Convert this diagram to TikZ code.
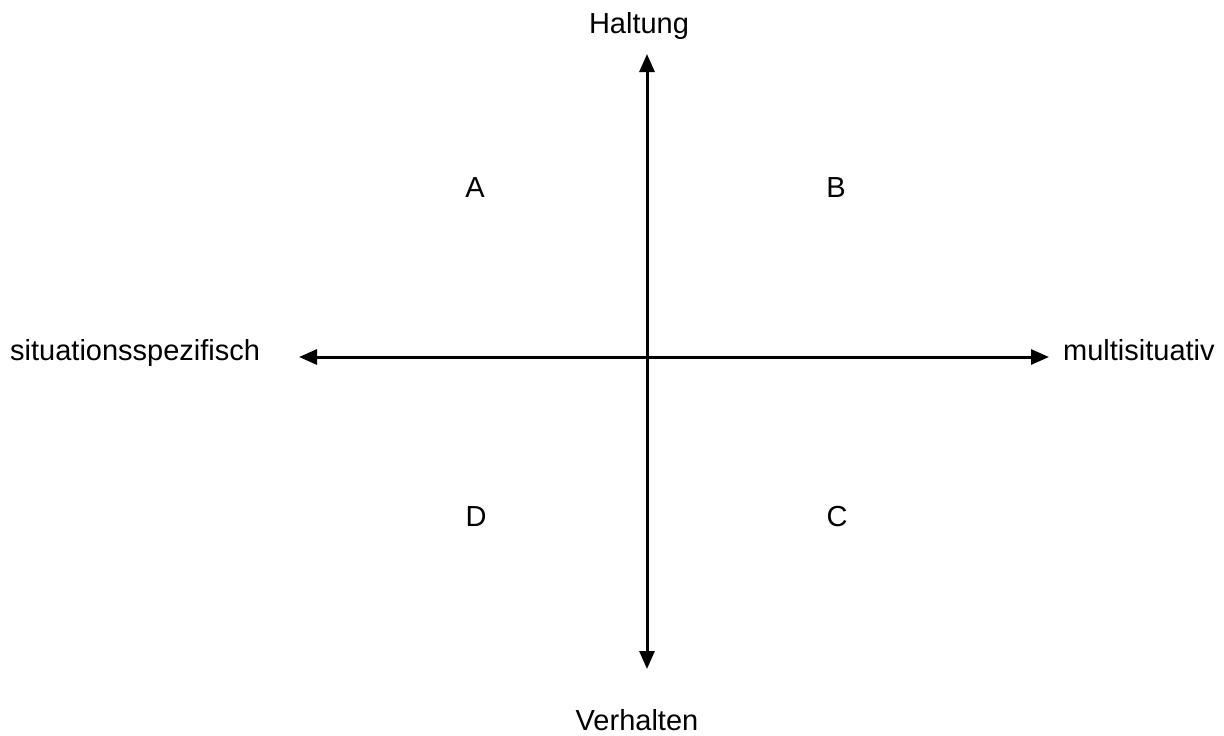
\documentclass[tikz,border=0pt]{standalone}
\usepackage{fontspec}
\setmainfont{Liberation Sans}
\usetikzlibrary{arrows.meta}
\begin{document}
\begin{tikzpicture}[x=1pt,y=-1pt,line join=round,>={Triangle[width=15pt,length=18pt]}]
	\tikzset{every node/.style={font=\fontsize{29}{34}\selectfont,inner sep=0pt},
		axis/.style={line width=3pt,<->}}
	\useasboundingbox (0,0) rectangle (1224,736);
	% Achsenenden
	\coordinate (top) at (647,54);
	\coordinate (bottom) at (647,669);
	\coordinate (left) at (299,357);
	\coordinate (right) at (1049,357);
	\draw[axis] (bottom)--(top);
	\draw[axis] (left)--(right);
	% Beschriftung
	\node[anchor=base] (haltung) at (639,33) {Haltung};
	\node[anchor=base] (verhalten) at (637,730) {Verhalten};
	\node[anchor=base west] (spez) at (10,360) {situationsspezifisch};
	\node[anchor=base west] (multi) at (1063,360) {multisituativ};
	% Quadranten
	\node[anchor=base] (qa) at (475,197) {A};
	\node[anchor=base] (qb) at (836,197) {B};
	\node[anchor=base] (qc) at (837,526) {C};
	\node[anchor=base] (qd) at (476,526) {D};
\end{tikzpicture}
\end{document}
